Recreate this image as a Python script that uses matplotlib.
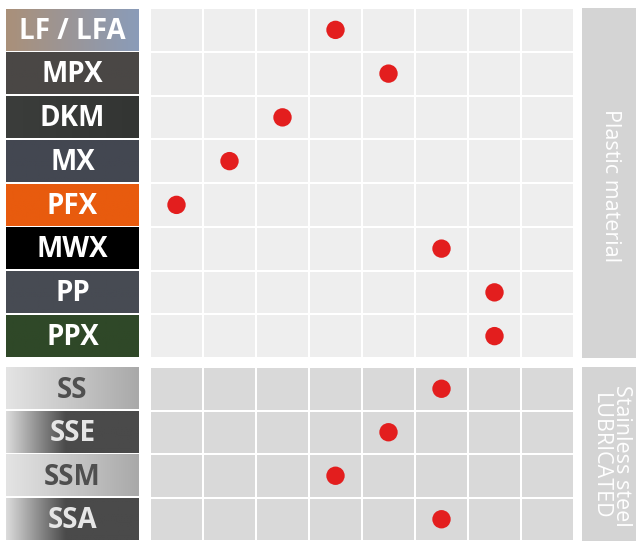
import numpy as np
import matplotlib
matplotlib.use("Agg")
import matplotlib.pyplot as plt
from matplotlib.patches import Rectangle
from matplotlib.colors import LinearSegmentedColormap

# Material groups and the grid column where each one sits (1 = left)
plastic_labels = ["LF / LFA", "MPX", "DKM", "MX", "PFX", "MWX", "PP", "PPX"]
plastic_level = [4, 5, 3, 2, 1, 6, 7, 7]
steel_labels = ["SS", "SSE", "SSM", "SSA"]
steel_level = [6, 5, 4, 6]
n_cols = 8

# label box styling: (left colour, right colour, text colour, gradient stop)
plastic_style = [
    ("#aa9079", "#8a9cb9", "white", 1.0),
    ("#4a4745", "#4a4745", "white", 1.0),
    ("#3b3d3b", "#333533", "white", 1.0),
    ("#434751", "#434751", "white", 1.0),
    ("#e85b0e", "#e85b0e", "white", 1.0),
    ("#000000", "#000000", "white", 1.0),
    ("#474b53", "#474b53", "white", 1.0),
    ("#2f4828", "#2f4828", "white", 1.0),
]
steel_style = [
    ("#e4e4e4", "#a9a9a9", "#4f4f4f", 1.0),
    ("#dcdcdc", "#4a4a4a", "#e6e6e6", 0.45),
    ("#e4e4e4", "#a9a9a9", "#4f4f4f", 1.0),
    ("#dcdcdc", "#4a4a4a", "#e6e6e6", 0.45),
]

W, H = 636, 543
COL = 53.0          # column width in px
GRID_X0 = 150.0     # px where the grid starts
xlim = (-GRID_X0 / COL, (W - GRID_X0) / COL)


def draw_section(ax, labels, levels, styles, cell_color, band_text, row_px):
    n = len(labels)
    ax.set_xlim(*xlim)
    ax.set_ylim(n, 0)
    ax.axis("off")
    gx = 1.0 / COL      # 1 px in x
    gy = 1.0 / row_px   # 1 px in y

    # grid cells
    for r in range(n):
        for c in range(n_cols):
            ax.add_patch(Rectangle((c + gx, r + gy), 1 - 2 * gx, 1 - 2 * gy,
                                   facecolor=cell_color, edgecolor="none", zorder=1))

    # label boxes
    lx0, lx1 = (6 - GRID_X0) / COL, (139 - GRID_X0) / COL
    for r, (lab, (c0, c1, tc, stop)) in enumerate(zip(labels, styles)):
        cmap = LinearSegmentedColormap.from_list(
            "g", [(0, c0), (stop, c1), (1, c1)] if stop < 1 else [c0, c1])
        grad = np.linspace(0, 1, 256).reshape(1, -1)
        ax.imshow(grad, cmap=cmap, aspect="auto", interpolation="bilinear",
                  extent=(lx0, lx1, r + 1 - gy, r + gy), zorder=1)
        ax.text((lx0 + lx1) / 2, r + 0.53, lab, color=tc, ha="center", va="center",
                fontsize=20, fontweight="bold", family=["Open Sans", "DejaVu Sans"],
                zorder=3)

    # right band
    bx0 = (582 - GRID_X0) / COL
    ax.add_patch(Rectangle((bx0, 0), xlim[1] - bx0, n, facecolor="#d4d4d4",
                           edgecolor="none", zorder=1))
    ax.text((bx0 + xlim[1]) / 2 + 0.03, n / 2 + 0.05, band_text, rotation=-90,
            color="white", ha="center", va="center", fontsize=15.5,
            family=["Open Sans", "DejaVu Sans"], linespacing=1.0, zorder=3)

    # dots
    ax.scatter(np.array(levels) - 0.5, np.arange(n) + 0.5, s=175, color="#e31e1e",
               edgecolors="none", zorder=4)


fig = plt.figure(figsize=(W / 100, H / 100), dpi=100)
ax_top = fig.add_axes([0, 1 - 358 / H, 1, 350 / H])
ax_bot = fig.add_axes([0, 1 - 541 / H, 1, 174 / H])

draw_section(ax_top, plastic_labels, plastic_level, plastic_style, "#eeeeee",
             "Plastic material", 350 / 8)
draw_section(ax_bot, steel_labels, steel_level, steel_style, "#d9d9d9",
             "Stainless steel\nLUBRICATED", 174 / 4)

fig.savefig("out.png", dpi=100)
